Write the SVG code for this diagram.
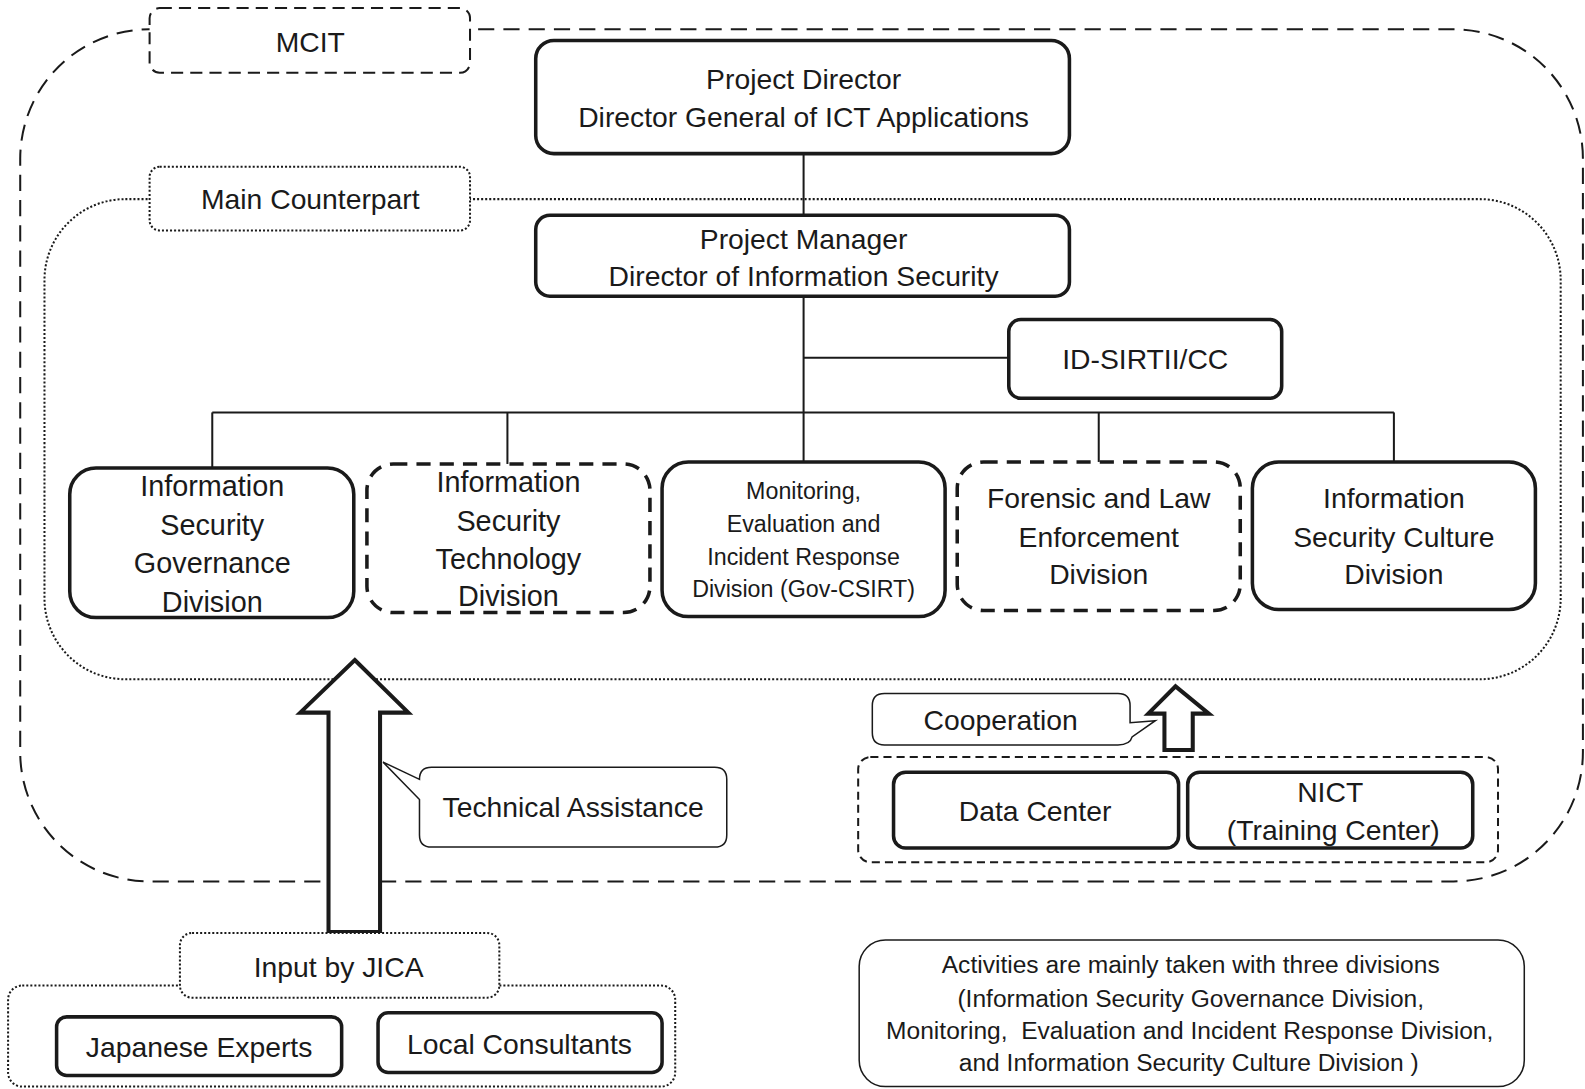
<svg xmlns="http://www.w3.org/2000/svg" width="1585" height="1089" viewBox="0 0 1585 1089">
<style>
text{font-family:"Liberation Sans",Arial,sans-serif;fill:#1a1a1a;text-anchor:middle}
.t28{font-size:28px}
.t29{font-size:28.5px}
.t23{font-size:23px}
.t24{font-size:24.3px}
.box{fill:#fff;stroke:#1a1a1a;stroke-width:3.5}
.dbox{fill:#fff;stroke:#1a1a1a;stroke-width:3.5;stroke-dasharray:14 9}
.outer{fill:none;stroke:#1a1a1a;stroke-width:2;stroke-dasharray:16 9}
.dotted{fill:none;stroke:#1a1a1a;stroke-width:2;stroke-dasharray:2 2}
.dlabel{fill:#fff;stroke:#1a1a1a;stroke-width:2;stroke-dasharray:12 7}
.olabel{fill:#fff;stroke:#1a1a1a;stroke-width:2;stroke-dasharray:2 2}
.thin{fill:#fff;stroke:#1a1a1a;stroke-width:1.5}
.line{fill:none;stroke:#1a1a1a;stroke-width:2}
.arrow{fill:#fff;stroke:#1a1a1a;stroke-width:4;stroke-linejoin:miter}
</style>
<rect width="1585" height="1089" fill="#fff"/>
<g transform="scale(1.0108)">
  <g id="containers">
    <rect class="outer" x="20" y="29" width="1546" height="843" rx="128"/>
    <rect class="dotted" x="44" y="197" width="1500" height="475" rx="80"/>
    <rect class="olabel" x="8" y="975" width="660" height="100" rx="14"/>
    <rect id="coop-group" x="849" y="749" width="633" height="104" rx="12" fill="none" stroke="#1a1a1a" stroke-width="2" stroke-dasharray="8 5"/>
  </g>
  <g id="mcit">
    <rect class="dlabel" x="148" y="8" width="317" height="64" rx="10"/>
    <text class="t28" x="307" y="51">MCIT</text>
  </g>
  <g id="main-counterpart">
    <rect class="olabel" x="148" y="165" width="317" height="63" rx="10"/>
    <text class="t28" x="307" y="207">Main Counterpart</text>
  </g>
  <g id="connectors">
    <line class="line" x1="795" y1="152" x2="795" y2="213"/>
    <line class="line" x1="795" y1="293" x2="795" y2="457"/>
    <line class="line" x1="795" y1="354" x2="998" y2="354"/>
    <line class="line" x1="210" y1="408" x2="1379" y2="408"/>
    <line class="line" x1="210" y1="408" x2="210" y2="463"/>
    <line class="line" x1="502" y1="408" x2="502" y2="459"/>
    <line class="line" x1="1087" y1="408" x2="1087" y2="457"/>
    <line class="line" x1="1379" y1="408" x2="1379" y2="457"/>
  </g>
  <g id="project-director">
    <rect class="box" x="530" y="40" width="528" height="112" rx="18"/>
    <text class="t28" x="795" y="88">Project Director</text>
    <text class="t28" x="795" y="126">Director General of ICT Applications</text>
  </g>
  <g id="project-manager">
    <rect class="box" x="530" y="213" width="528" height="80" rx="14"/>
    <text class="t28" x="795" y="246">Project Manager</text>
    <text class="t28" x="795" y="283">Director of Information Security</text>
  </g>
  <g id="id-sirtii">
    <rect class="box" x="998" y="316" width="270" height="78" rx="12"/>
    <text class="t28" x="1133" y="365">ID-SIRTII/CC</text>
  </g>
  <g id="div-governance">
    <rect class="box" x="69" y="463" width="281" height="148" rx="26"/>
    <text class="t29" x="210" y="491">Information</text>
    <text class="t29" x="210" y="529">Security</text>
    <text class="t29" x="210" y="567">Governance</text>
    <text class="t29" x="210" y="605">Division</text>
  </g>
  <g id="div-technology">
    <rect class="dbox" x="363" y="459" width="280" height="147" rx="26"/>
    <text class="t29" x="503" y="487">Information</text>
    <text class="t29" x="503" y="525">Security</text>
    <text class="t29" x="503" y="563">Technology</text>
    <text class="t29" x="503" y="600">Division</text>
  </g>
  <g id="div-monitoring">
    <rect class="box" x="655" y="457" width="280" height="153" rx="26"/>
    <text class="t23" x="795" y="494">Monitoring,</text>
    <text class="t23" x="795" y="526">Evaluation and</text>
    <text class="t23" x="795" y="559">Incident Response</text>
    <text class="t23" x="795" y="591">Division (Gov-CSIRT)</text>
  </g>
  <g id="div-forensic">
    <rect class="dbox" x="947" y="457" width="280" height="147" rx="26"/>
    <text class="t28" x="1087" y="503">Forensic and Law</text>
    <text class="t28" x="1087" y="541">Enforcement</text>
    <text class="t28" x="1087" y="578">Division</text>
  </g>
  <g id="div-culture">
    <rect class="box" x="1239" y="457" width="280" height="146" rx="26"/>
    <text class="t28" x="1379" y="503">Information</text>
    <text class="t28" x="1379" y="541">Security Culture</text>
    <text class="t28" x="1379" y="578">Division</text>
  </g>
  <g id="technical-assistance-arrow">
    <path class="arrow" d="M351,653 L404,705 L376,705 L376,922 L325,922 L325,705 L297,705 Z"/>
  </g>
  <g id="technical-assistance">
    <path class="thin" d="M427,759 H707 Q719,759 719,771 V826 Q719,838 707,838 H427 Q415,838 415,826 V791 L379,754 L415,771 Q415,759 427,759 Z"/>
    <text class="t28" x="567" y="808">Technical Assistance</text>
  </g>
  <g id="cooperation-arrow">
    <path class="arrow" stroke-width="3.5" d="M1163,679 L1196,706 L1180,706 L1180,742 L1152,742 L1152,706 L1136,706 Z"/>
  </g>
  <g id="cooperation">
    <path class="thin" d="M875,686 H1106 Q1118,686 1118,698 V715 L1143,713 L1120,729 Q1118,737 1106,737 H875 Q863,737 863,725 V698 Q863,686 875,686 Z"/>
    <text class="t28" x="990" y="722">Cooperation</text>
  </g>
  <g id="data-center">
    <rect class="box" x="884" y="764" width="282" height="75" rx="12"/>
    <text class="t28" x="1024" y="812">Data Center</text>
  </g>
  <g id="nict">
    <rect class="box" x="1175" y="764" width="282" height="75" rx="12"/>
    <text class="t28" x="1316" y="793">NICT</text>
    <text class="t28" x="1319" y="831">(Training Center)</text>
  </g>
  <g id="input-by-jica">
    <rect class="olabel" x="178" y="923" width="316" height="64" rx="12"/>
    <text class="t28" x="335" y="967">Input by JICA</text>
  </g>
  <g id="japanese-experts">
    <rect class="box" x="56" y="1006" width="282" height="58" rx="10"/>
    <text class="t28" x="197" y="1046">Japanese Experts</text>
  </g>
  <g id="local-consultants">
    <rect class="box" x="374" y="1002" width="281" height="59" rx="10"/>
    <text class="t28" x="514" y="1043">Local Consultants</text>
  </g>
  <g id="note">
    <rect class="thin" x="850" y="930" width="658" height="145" rx="26"/>
    <text class="t24" x="1178" y="963">Activities are mainly taken with three divisions</text>
    <text class="t24" x="1178" y="996">(Information Security Governance Division,</text>
    <text class="t24" x="1177" y="1028" xml:space="preserve">Monitoring,  Evaluation and Incident Response Division,</text>
    <text class="t24" x="1176" y="1060">and Information Security Culture Division )</text>
  </g>
</g>
</svg>
